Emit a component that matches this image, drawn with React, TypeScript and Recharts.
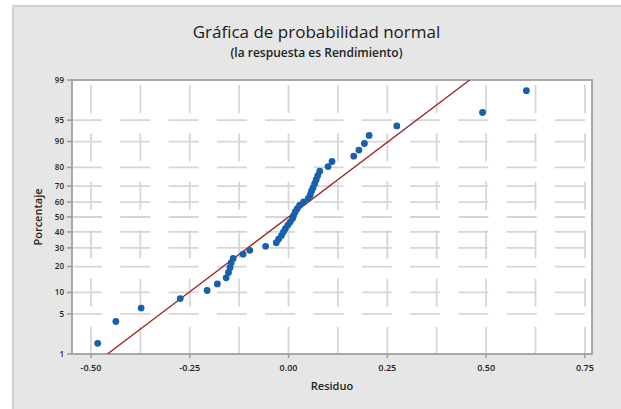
import { ScatterChart, Scatter, XAxis, YAxis, CartesianGrid, ReferenceArea } from 'recharts';

// residuos ordenados y su porcentaje
const residuo = [
  -0.483, -0.437, -0.373, -0.274, -0.206, -0.18, -0.158, -0.152, -0.148, -0.145, -0.14,
  -0.115, -0.098, -0.058, -0.031, -0.025, -0.018, -0.013, -0.008, -0.002, 0.004, 0.01,
  0.013, 0.017, 0.022, 0.028, 0.038, 0.05, 0.055, 0.058, 0.062, 0.066, 0.07, 0.074,
  0.079, 0.1, 0.11, 0.165, 0.178, 0.192, 0.204, 0.274, 0.491, 0.602,
];
const porcentaje = [
  1.6, 3.8, 6.1, 8.3, 10.6, 12.8, 15.1, 17.3, 19.6, 21.9, 24.1, 26.4, 28.6, 30.9, 33.1,
  35.4, 37.6, 39.9, 42.1, 44.4, 46.6, 48.9, 51.1, 53.4, 55.6, 57.9, 60.1, 62.4, 64.6,
  66.9, 69.1, 71.4, 73.7, 75.9, 78.2, 80.4, 82.7, 84.9, 87.2, 89.4, 91.7, 93.9, 96.2, 98.4,
];

const yTickPct = [1, 5, 10, 20, 30, 40, 50, 60, 70, 80, 90, 95, 99];
const xGridTicks = [-0.5, -0.375, -0.25, -0.125, 0, 0.125, 0.25, 0.375, 0.5, 0.625, 0.75];
const xLabelTicks = [-0.5, -0.25, 0, 0.25, 0.5, 0.75];
const xDomain = [-0.548, 0.768];

// recta de referencia: media y desviacion
const fitMean = 0;
const fitSd = 0.197;
const fitEnds = [1, 99];

// normal inversa (escala de probabilidad)
function probit(p: number) {
  const a = [-39.69683028665376, 220.9460984245205, -275.9285104469687, 138.357751867269, -30.66479806614716, 2.506628277459239];
  const b = [-54.47609879822406, 161.5858368580409, -155.6989798598866, 66.80131188771972, -13.28068155288572];
  const c = [-0.007784894002430293, -0.3223964580411365, -2.400758277161838, -2.549732539343734, 4.374664141464968, 2.938163982698783];
  const d = [0.007784695709041462, 0.3224671290700398, 2.445134137142996, 3.754408661907416];
  const pl = 0.02425;
  if (p < pl) {
    const q = Math.sqrt(-2 * Math.log(p));
    return (((((c[0] * q + c[1]) * q + c[2]) * q + c[3]) * q + c[4]) * q + c[5]) / ((((d[0] * q + d[1]) * q + d[2]) * q + d[3]) * q + 1);
  }
  if (p > 1 - pl) {
    const q = Math.sqrt(-2 * Math.log(1 - p));
    return -(((((c[0] * q + c[1]) * q + c[2]) * q + c[3]) * q + c[4]) * q + c[5]) / ((((d[0] * q + d[1]) * q + d[2]) * q + d[3]) * q + 1);
  }
  const q = p - 0.5;
  const r = q * q;
  return ((((((a[0] * r + a[1]) * r + a[2]) * r + a[3]) * r + a[4]) * r + a[5]) * q) / (((((b[0] * r + b[1]) * r + b[2]) * r + b[3]) * r + b[4]) * r + 1);
}

const puntos = residuo.map((x, i) => ({ x, z: probit(porcentaje[i] / 100) }));
const recta = fitEnds.map((p) => ({ x: fitMean + fitSd * probit(p / 100), z: probit(p / 100) }));
const yTicks = yTickPct.map((p) => probit(p / 100));
const yDomain = [yTicks[0], yTicks[yTicks.length - 1]];

const font = '"Open Sans", "DejaVu Sans", sans-serif';
const gridColor = '#d6d6d6';

const XTick = (props: any) => {
  const { x, y, payload } = props;
  if (!xLabelTicks.includes(payload.value)) return <g />;
  return (
    <g>
      <line x1={x} x2={x} y1={y} y2={y + 4} stroke="#9a9a9a" strokeWidth={1.5} />
      <text x={x} y={y + 17} textAnchor="middle" fontSize={9} fontWeight={600} fill="#222" fontFamily={font}>
        {payload.value.toFixed(2)}
      </text>
    </g>
  );
};

export default function App() {
  return (
    <div style={{ position: 'relative', width: 621, height: 409, background: '#fff', fontFamily: font }}>
      <style>{'body{margin:0}'}</style>
      <div
        style={{
          position: 'absolute', left: 12, top: 5, right: 0, bottom: 0,
          background: '#e6e6e6', borderLeft: '2px solid #cfcfcf', borderTop: '2px solid #cfcfcf',
        }}
      />
      <div style={{ position: 'absolute', left: 12, right: 0, top: 20, textAlign: 'center', fontSize: 17, color: '#1a1a1a' }}>
        Gráfica de probabilidad normal
      </div>
      <div style={{ position: 'absolute', left: 12, right: 0, top: 44, textAlign: 'center', fontSize: 12, fontWeight: 600, color: '#222' }}>
        (la respuesta es Rendimiento)
      </div>
      <div style={{ position: 'absolute', left: 0, top: 0 }}>
        <ScatterChart width={621} height={409} margin={{ top: 80, right: 29, bottom: 35, left: 0 }}>
          <CartesianGrid
            fill="#fff"
            vertical={false}
            horizontal={(p: any) => (
              <line key={`h${p.index}`} x1={p.x1} y1={p.y1} x2={p.x2} y2={p.y2}
                stroke={gridColor} strokeWidth={1.8} strokeDasharray="30 18.3" />
            )}
          />
          <CartesianGrid
            horizontal={false}
            vertical={(p: any) => (
              <line key={`v${p.index}`} x1={p.x1} y1={p.y1} x2={p.x2} y2={p.y2}
                stroke={gridColor} strokeWidth={1.8} strokeDasharray="28 20.4" strokeDashoffset={43.4} />
            )}
          />
          <XAxis
            type="number"
            dataKey="x"
            domain={xDomain}
            ticks={xGridTicks}
            interval={0}
            allowDataOverflow
            height={20}
            axisLine={false}
            tickLine={false}
            tickSize={0}
            tickMargin={0}
            tick={<XTick />}
            label={{ value: 'Residuo', position: 'bottom', offset: 8, fontSize: 11, fontWeight: 600, fill: '#222', fontFamily: font }}
          />
          <YAxis
            type="number"
            dataKey="z"
            domain={yDomain}
            ticks={yTicks}
            interval={0}
            allowDataOverflow
            width={72}
            axisLine={false}
            tickLine={{ stroke: '#9a9a9a', strokeWidth: 1.5 }}
            tickSize={5}
            tickMargin={3}
            tickFormatter={(_v: number, i: number) => String(yTickPct[i])}
            tick={{ fontSize: 8, fontWeight: 600, fill: '#222', fontFamily: font }}
            label={{ value: 'Porcentaje', angle: -90, position: 'center', dx: 2, fontSize: 11, fontWeight: 600, fill: '#222', fontFamily: font }}
          />
          <ReferenceArea x1={xDomain[0]} x2={xDomain[1]} y1={yDomain[0]} y2={yDomain[1]} fill="none" stroke="#a8a8a8" strokeWidth={2} />
          <Scatter
            data={recta}
            isAnimationActive={false}
            line={{ stroke: '#a31f1f', strokeWidth: 1.3 }}
            shape={() => <g />}
            legendType="none"
          />
          <Scatter
            data={puntos}
            isAnimationActive={false}
            shape={(p: any) => <circle cx={p.cx} cy={p.cy} r={3.4} fill="#1660ae" />}
          />
        </ScatterChart>
      </div>
    </div>
  );
}
